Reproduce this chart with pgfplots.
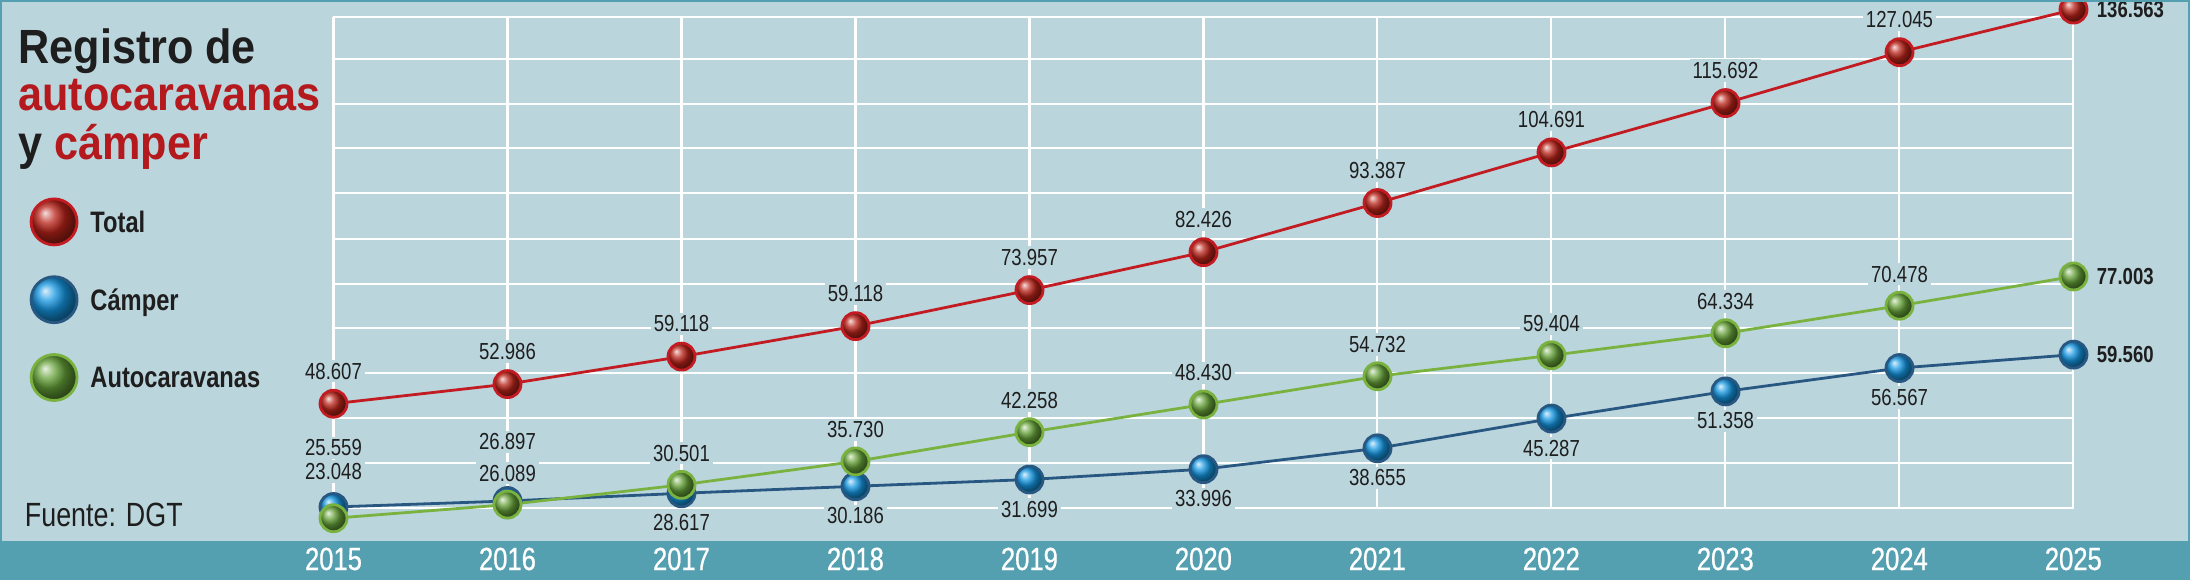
\documentclass[border=0pt]{standalone}
\usepackage{pgfplots}
\pgfplotsset{compat=1.18}
\usepackage{fontspec}
\setmainfont{Liberation Sans}[FakeStretch=0.8]
\newfontfamily\titlefont{Liberation Sans}[FakeStretch=0.9]
\newfontfamily\yearfont{Liberation Sans}[FakeStretch=0.8, FakeBold=0.7]
\definecolor{bg}{RGB}{187,213,221}
\definecolor{band}{RGB}{84,160,176}
\definecolor{tred}{RGB}{194,28,34}
\definecolor{ttitle}{RGB}{180,25,30}
\definecolor{tblue}{RGB}{40,88,130}
\definecolor{tgreen}{RGB}{122,178,64}
\definecolor{bred}{RGB}{185,35,25}
\definecolor{bblue}{RGB}{20,150,225}
\definecolor{bgreen}{RGB}{100,160,55}
\definecolor{txt}{RGB}{30,30,30}
\tikzset{lbl/.style={font=\fontsize{11.6}{12}\selectfont, text=txt, fill=bg, inner sep=1.5pt}}
\begin{document}
\begin{tikzpicture}
\fill[bg] (0,0) rectangle (1095pt,289.5pt);
\fill[band] (0,0) rectangle (1095pt,19.15pt);
\node[anchor=base west, inner sep=0, font=\titlefont\bfseries\fontsize{24}{28}\selectfont, text=txt] at (9pt,257.75pt) {Registro de};
\node[anchor=base west, inner sep=0, font=\titlefont\bfseries\fontsize{24}{28}\selectfont, text=ttitle] at (9pt,234.1pt) {autocaravanas};
\node[anchor=base west, inner sep=0, font=\titlefont\bfseries\fontsize{24}{28}\selectfont, text=txt] at (9pt,209.75pt) {y \textcolor{ttitle}{cámper}};
\node[anchor=base west, inner sep=0, font=\fontsize{16.8}{18}\selectfont, text=txt] at (12.25pt,26.5pt) {Fuente: DGT};
\begin{axis}[
  at={(166.75pt,35.35pt)}, anchor=south west,
  scale only axis, width=870pt, height=245.5pt,
  xmin=2015, xmax=2025, ymin=25270, ymax=134832,
  axis line style={draw=none},
  xtick={2015,...,2025},
  ytick={25270,35312,45420,55461,65435,75387,85428,95559,105601,115553,125527,134832},
  yticklabels={}, scaled y ticks=false, major tick length=0pt,
  grid=major, major grid style={white, line width=1.1pt},
  xticklabel style={anchor=base, yshift=-30.85pt, font=\yearfont\fontsize{16}{16}\selectfont, text=white},
  /pgf/number format/assume math mode=true,
  /pgf/number format/set thousands separator={},
  clip=false,
  legend cell align=left,
  legend style={at={(rel axis cs:-0.1746,0.633)}, anchor=north west, draw=none, fill=none,
    inner sep=0pt, outer sep=0pt, row sep=14.5pt,
    nodes={inner sep=0pt, text depth=0pt},
    font=\bfseries\fontsize{14.8}{15}\selectfont, text=txt},
]
\addplot[tred, line width=1.4pt, mark=ball, mark size=6.75pt, mark options={draw=none, ball color=bred},
  legend image code/.code={\shade[ball color=bred] (11.5pt,0pt) circle (11.5pt); \path (29pt,0pt);}]
  coordinates {(2015,48607) (2016,52986) (2017,59118) (2018,65916) (2019,73957) (2020,82426)
  (2021,93387) (2022,104691) (2023,115692) (2024,127045) (2025,136563)};
\addlegendentry{Total}
\addplot[tblue, line width=1.4pt, mark=ball, mark size=6.75pt, mark options={draw=none, ball color=bblue},
  legend image code/.code={\shade[ball color=bblue] (11.5pt,0pt) circle (11.5pt); \path (29pt,0pt);}]
  coordinates {(2015,25559) (2016,26897) (2017,28617) (2018,30186) (2019,31699) (2020,33996)
  (2021,38655) (2022,45287) (2023,51358) (2024,56567) (2025,59560)};
\addlegendentry{Cámper}
\addplot[tgreen, line width=1.4pt, mark=ball, mark size=6.75pt, mark options={draw=none, ball color=bgreen},
  legend image code/.code={\shade[ball color=bgreen] (11.5pt,0pt) circle (11.5pt); \path (29pt,0pt);}]
  coordinates {(2015,23048) (2016,26089) (2017,30501) (2018,35730) (2019,42258) (2020,48430)
  (2021,54732) (2022,59404) (2023,64334) (2024,70478) (2025,77003)};
\addlegendentry{Autocaravanas}
% labels: Total above
\addplot[draw=none, forget plot, mark=none, point meta=explicit symbolic, nodes near coords,
  every node near coord/.append style={lbl, anchor=south, yshift=10.5pt}]
  coordinates {(2015,48607)[48.607] (2016,52986)[52.986] (2017,59118)[59.118] (2018,65916)[59.118]
  (2019,73957)[73.957] (2020,82426)[82.426] (2021,93387)[93.387] (2022,104691)[104.691]
  (2023,115692)[115.692] (2024,127045)[127.045]};
% Autocaravanas above
\addplot[draw=none, forget plot, mark=none, point meta=explicit symbolic, nodes near coords,
  every node near coord/.append style={lbl, anchor=south, yshift=10pt}]
  coordinates {(2016,26089)[26.089] (2017,30501)[30.501] (2018,35730)[35.730] (2019,42258)[42.258]
  (2020,48430)[48.430] (2021,54732)[54.732] (2022,59404)[59.404] (2023,64334)[64.334] (2024,70478)[70.478]};
\addplot[draw=none, forget plot, mark=none, point meta=explicit symbolic, nodes near coords,
  every node near coord/.append style={lbl, anchor=south, yshift=17.5pt}]
  coordinates {(2015,23048)[23.048]};
% Camper above (2015, 2016)
\addplot[draw=none, forget plot, mark=none, point meta=explicit symbolic, nodes near coords,
  every node near coord/.append style={lbl, anchor=south, yshift=23.8pt}]
  coordinates {(2015,25559)[25.559] (2016,26897)[26.897]};
% Camper below
\addplot[draw=none, forget plot, mark=none, point meta=explicit symbolic, nodes near coords,
  every node near coord/.append style={lbl, anchor=north, yshift=-9pt}]
  coordinates {(2017,28617)[28.617] (2018,30186)[30.186] (2019,31699)[31.699] (2020,33996)[33.996]
  (2021,38655)[38.655] (2022,45287)[45.287] (2023,51358)[51.358] (2024,56567)[56.567]};
% right labels 2025
\addplot[draw=none, forget plot, mark=none, point meta=explicit symbolic, nodes near coords,
  every node near coord/.append style={lbl, font=\bfseries\fontsize{11.6}{12}\selectfont, anchor=west, xshift=10pt, yshift=0pt}]
  coordinates {(2025,136563)[136.563] (2025,77003)[77.003] (2025,59560)[59.560]};
\end{axis}
\draw[band, line width=2pt] (0,0) rectangle (1095pt,289.5pt);
\pgfresetboundingbox
\useasboundingbox (0,0) rectangle (1095pt,289.5pt);
\end{tikzpicture}
\end{document}
